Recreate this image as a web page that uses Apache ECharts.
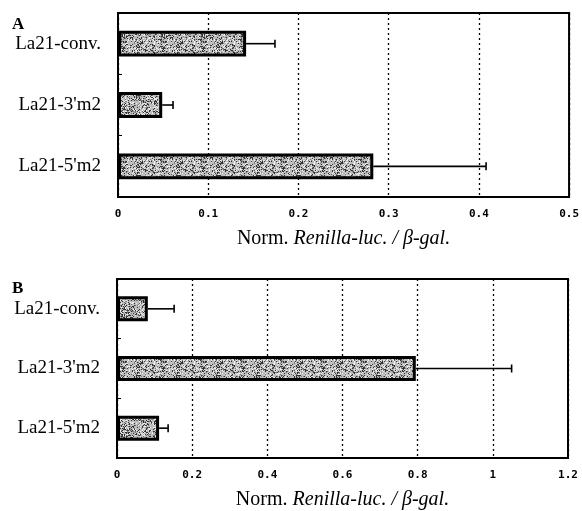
<!DOCTYPE html>
<html>
<head>
<meta charset="utf-8">
<script src="https://cdn.jsdelivr.net/npm/echarts@6/dist/echarts.min.js"></script>
<style>
  html, body { margin: 0; padding: 0; background: #fff; }
  #chart { width: 582px; height: 511px; }
</style>
</head>
<body>
<div id="chart"></div>
<script>
// constructs, top to bottom
var categories = ['La21-conv.', "La21-3'm2", "La21-5'm2"];

// panel A
var valuesA = [0.142, 0.049, 0.283];
var errorsA = [0.032, 0.012, 0.125];
var ticksA = { min: 0, max: 0.5, interval: 0.1 };

// panel B
var valuesB = [0.082, 0.795, 0.112];
var errorsB = [0.070, 0.255, 0.024];
var ticksB = { min: 0, max: 1.2, interval: 0.2 };

var axisTitle = '{n|Norm. }{i|Renilla-luc. / β-gal.}';

// stippled bar fill: speckles plus a few short diagonal strokes
function makeTexture() {
  var size = 40;
  var c = document.createElement('canvas');
  c.width = size; c.height = size;
  var ctx = c.getContext('2d');
  ctx.fillStyle = '#bcbcbc';
  ctx.fillRect(0, 0, size, size);
  for (var i = 0; i < size; i++) {
    for (var j = 0; j < size; j++) {
      var h = ((i * 2654435761) ^ (j * 40503 + i * j * 97)) >>> 0;
      var k = h % 11;
      if (k === 0 || k === 6) ctx.fillStyle = '#333';
      else if (k === 3) ctx.fillStyle = '#777';
      else if (k === 8 || k === 9) ctx.fillStyle = '#ededed';
      else continue;
      ctx.fillRect(i, j, 1, 1);
    }
  }
  ctx.strokeStyle = 'rgba(40,40,40,0.55)';
  ctx.lineWidth = 1;
  for (var s = 0; s < size; s += 10) {
    ctx.beginPath();
    ctx.moveTo(s, (s * 3) % size);
    ctx.lineTo(s + 6, (s * 3) % size + 3);
    ctx.stroke();
  }
  return c;
}
var texture = makeTexture();

var chart = echarts.init(document.getElementById('chart'));

function errorRender(params, api) {
  var v = api.value(0);
  var idx = api.value(1);
  var hi = api.value(2);
  var p0 = api.coord([v, idx]);
  var p1 = api.coord([hi, idx]);
  var cap = 4;
  return {
    type: 'group',
    children: [{
      type: 'line',
      shape: { x1: p0[0], y1: p0[1], x2: p1[0], y2: p1[1] },
      style: { stroke: '#000', lineWidth: 1.6 }
    }, {
      type: 'line',
      shape: { x1: p1[0], y1: p1[1] - cap, x2: p1[0], y2: p1[1] + cap },
      style: { stroke: '#000', lineWidth: 1.6 }
    }]
  };
}

function errData(vals, errs) {
  return vals.map(function (v, i) { return [v, i, v + errs[i]]; });
}

function xAxisFor(ticks, gridIndex) {
  return {
    type: 'value',
    gridIndex: gridIndex,
    min: ticks.min,
    max: ticks.max,
    interval: ticks.interval,
    name: axisTitle,
    nameLocation: 'middle',
    nameGap: 32,
    nameTextStyle: {
      rich: {
        n: { fontFamily: 'Liberation Serif', fontSize: 20, color: '#000' },
        i: { fontFamily: 'Liberation Serif', fontSize: 20, fontStyle: 'italic', color: '#000' }
      }
    },
    axisLine: { show: false },
    axisTick: { show: false },
    axisLabel: {
      margin: 12,
      fontFamily: 'DejaVu Sans Mono',
      fontWeight: 'bold',
      fontSize: 11,
      color: '#000'
    },
    splitLine: {
      show: true,
      lineStyle: { color: '#000', width: 1.3, type: [2, 3] }
    }
  };
}

function yAxisFor(gridIndex) {
  return {
    type: 'category',
    gridIndex: gridIndex,
    data: categories,
    inverse: true,
    axisLine: { show: false },
    axisTick: { show: true, inside: true, length: 4, lineStyle: { color: '#000' } },
    axisLabel: {
      margin: 17,
      fontFamily: 'Liberation Serif',
      fontSize: 19,
      color: '#000'
    }
  };
}

function barSeries(vals, idx) {
  return {
    type: 'bar',
    xAxisIndex: idx,
    yAxisIndex: idx,
    data: vals,
    barWidth: '42%',
    itemStyle: {
      color: { image: texture, repeat: 'repeat' },
      borderColor: '#000',
      borderWidth: 3
    },
    z: 3
  };
}

function errSeries(vals, errs, idx) {
  return {
    type: 'custom',
    xAxisIndex: idx,
    yAxisIndex: idx,
    renderItem: errorRender,
    encode: { x: [0, 2], y: 1 },
    data: errData(vals, errs),
    z: 4
  };
}

var option = {
  backgroundColor: '#fff',
  animation: false,
  grid: [{
    left: 118, top: 13, width: 453, height: 184,
    show: true, borderColor: '#000', borderWidth: 2, backgroundColor: 'transparent'
  }, {
    left: 117, top: 279, width: 451, height: 183,
    show: true, borderColor: '#000', borderWidth: 2, backgroundColor: 'transparent'
  }],
  xAxis: [xAxisFor(ticksA, 0), xAxisFor(ticksB, 1)],
  yAxis: [yAxisFor(0), yAxisFor(1)],
  series: [
    barSeries(valuesA, 0),
    errSeries(valuesA, errorsA, 0),
    barSeries(valuesB, 1),
    errSeries(valuesB, errorsB, 1)
  ],
  graphic: [{
    type: 'text', left: 12, top: 16,
    style: { text: 'A', fontFamily: 'Liberation Serif', fontWeight: 'bold', fontSize: 17, fill: '#000' }
  }, {
    type: 'text', left: 12, top: 280,
    style: { text: 'B', fontFamily: 'Liberation Serif', fontWeight: 'bold', fontSize: 17, fill: '#000' }
  }]
};

chart.setOption(option);
</script>
</body>
</html>
